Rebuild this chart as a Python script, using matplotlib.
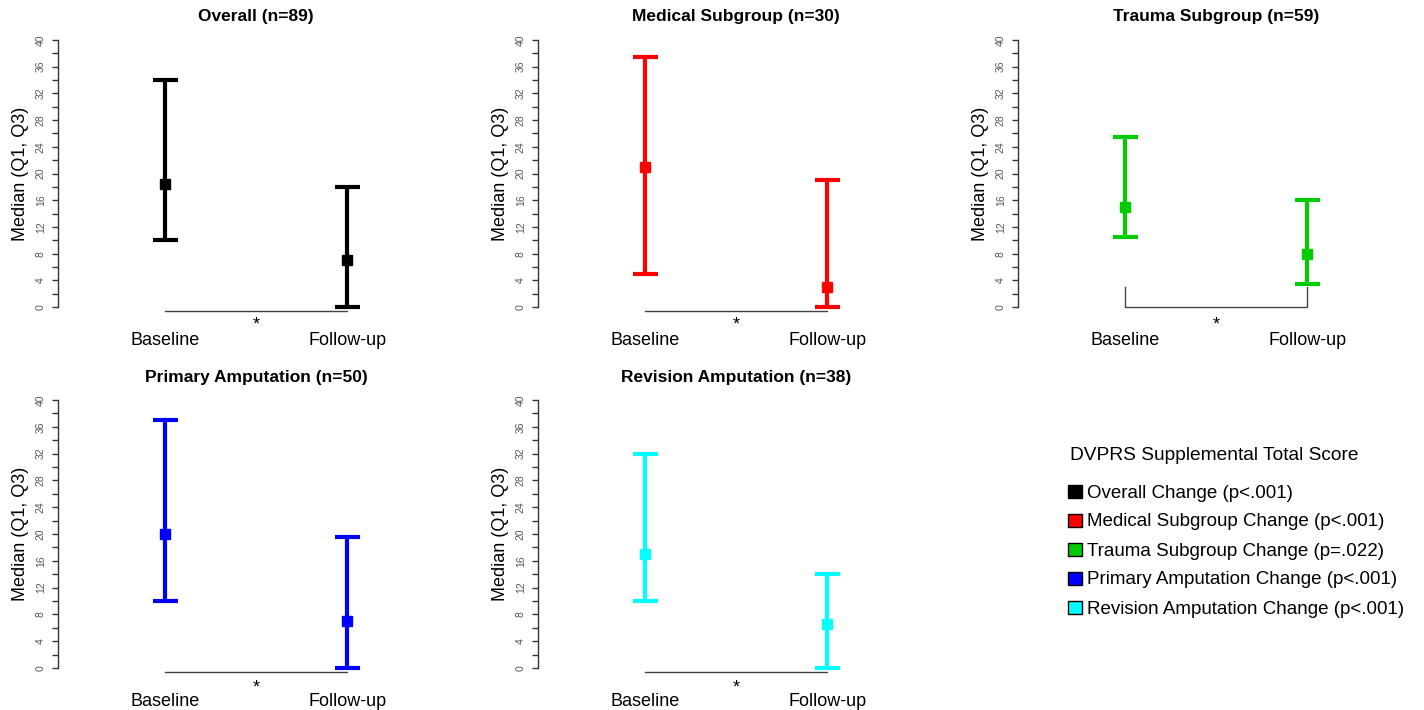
import numpy as np
import matplotlib.pyplot as plt
from matplotlib.patches import Rectangle

plt.rcParams['font.family'] = ['Liberation Sans', 'DejaVu Sans']

# data
titles = ["Overall (n=89)", "Medical Subgroup (n=30)", "Trauma Subgroup (n=59)",
          "Primary Amputation (n=50)", "Revision Amputation (n=38)"]
colors = ["#000000", "#FF0000", "#00CC00", "#0000FF", "#00FFFF"]
timepoints = ["Baseline", "Follow-up"]
medians = [[18.5, 7], [21, 3], [15, 8], [20, 7], [17, 6.5]]
q1 = [[10, 0], [5, 0], [10.5, 3.5], [10, 0], [10, 0]]
q3 = [[34, 18], [37.5, 19], [25.5, 16], [37, 19.5], [32, 14]]
bracket = ["flat", "flat", "legs", "flat", "flat"]

legend_title = "DVPRS Supplemental Total Score"
legend_labels = ["Overall Change (p<.001)", "Medical Subgroup Change (p<.001)",
                 "Trauma Subgroup Change (p=.022)", "Primary Amputation Change (p<.001)",
                 "Revision Amputation Change (p<.001)"]

W, H = 1424, 710
fig = plt.figure(figsize=(W / 100, H / 100), dpi=100)

# pixel layout of each panel: (y-of-40, y-of-0) per row, spine x per column
rows = [(40, 307), (400, 668)]
cols = [58, 538, 1018]
ymin, ymax = -1.5, 40.5

x = np.array([1, 2])
for i in range(len(titles)):
    r, c = divmod(i, 3)
    top40, bot0 = rows[r]
    ppu = (bot0 - top40) / 40.0
    top_px = top40 - (ymax - 40) * ppu
    bot_px = bot0 - ymin * ppu
    left = cols[c]
    ax = fig.add_axes([left / W, 1 - bot_px / H, 362 / W, (bot_px - top_px) / H])
    ax.set_xlim(0.412, 2.4)
    ax.set_ylim(ymin, ymax)

    med = np.array(medians[i], dtype=float)
    lo = np.array(q1[i], dtype=float)
    hi = np.array(q3[i], dtype=float)

    if bracket[i] == "legs":
        ax.plot([1, 1, 2, 2], [3, 0, 0, 3], color="#444444", lw=1, zorder=1)
    else:
        ax.plot([1, 2], [-0.55, -0.55], color="#444444", lw=1, zorder=1)

    ax.errorbar(x, med, yerr=[med - lo, hi - med], fmt='s', color=colors[i],
                ms=7.5, lw=3, capsize=9, capthick=3, zorder=3)

    for s in ["top", "right", "bottom"]:
        ax.spines[s].set_visible(False)
    ax.spines["left"].set_bounds(0, 40)
    ax.spines["left"].set_color("#333333")
    ax.spines["left"].set_linewidth(1)

    yt = np.arange(0, 41, 2)
    ax.set_yticks(yt, [str(v) if v % 4 == 0 else "" for v in yt])
    ax.tick_params(axis="y", length=4.3, width=1, color="#333333",
                   labelsize=7.5, labelcolor="#555555", pad=4.5)
    for lab in ax.get_yticklabels():
        lab.set_rotation(90)
        lab.set_va("center")

    ax.set_xticks(x, timepoints)
    ax.tick_params(axis="x", length=0, labelsize=13, pad=10.5)

    ax.set_ylabel("Median (Q1, Q3)", fontsize=13)
    ax.yaxis.set_label_coords(-0.08, (20 - ymin) / (ymax - ymin))

    tr = ax.get_xaxis_transform()
    ax.text(1.5, 1 + (top_px - (17 + 360 * r)) / (bot_px - top_px), titles[i],
            transform=tr, ha="center", va="center", fontsize=12.5, fontweight="bold")
    ax.text(1.5, -(5 + 2 * r) / (bot_px - top_px) - 0.012, "*", transform=tr,
            ha="center", va="center", fontsize=13)

# legend drawn by hand
fig.text(1070 / W, 1 - 455 / H, legend_title, ha="left", va="center", fontsize=13.8)
for k, (lab, col) in enumerate(zip(legend_labels, colors)):
    yc = 492 + 29 * k
    fig.add_artist(Rectangle((1068 / W, 1 - (yc + 6) / H), 14 / W, 13 / H,
                             transform=fig.transFigure, facecolor=col,
                             edgecolor="#000000", lw=1))
    fig.text(1087 / W, 1 - (yc + 1) / H, lab, ha="left", va="center", fontsize=13.5)

fig.savefig("out.png", dpi=100)
